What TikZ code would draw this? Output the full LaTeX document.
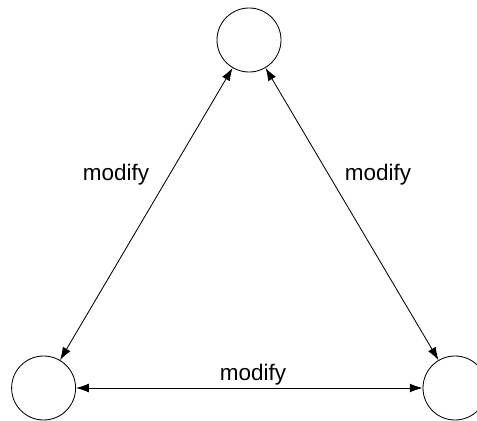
\documentclass[tikz,border=0pt]{standalone}
\usepackage{fontspec}
\setmainfont{Liberation Sans}
\usetikzlibrary{arrows.meta}

\begin{document}
\begin{tikzpicture}[
  every node/.style={font=\fontsize{16}{19}\selectfont},
  state/.style={circle, draw, line width=0.6pt, minimum size=1.6cm, inner sep=0pt},
  link/.style={{Latex[length=3.2mm, width=2.2mm]}-{Latex[length=3.2mm, width=2.2mm]}, line width=0.6pt},
]
\useasboundingbox (0, 0) rectangle (11.925, 10.5);

% States
\node[state] (top) at (6.225, 9.5) {};
\node[state] (left) at (1.09, 0.8) {};
\node[state] (right) at (11.375, 0.8) {};

% Links
\draw[link] (top) -- (left);
\draw[link] (top) -- (right);
\draw[link] (left) -- (right);

% Labels
\node[anchor=base] (lblleft) at (2.9, 6.0) {modify};
\node[anchor=base] (lblright) at (9.45, 6.0) {modify};
\node[anchor=base] (lblbottom) at (6.325, 1.0) {modify};

\end{tikzpicture}
\end{document}
